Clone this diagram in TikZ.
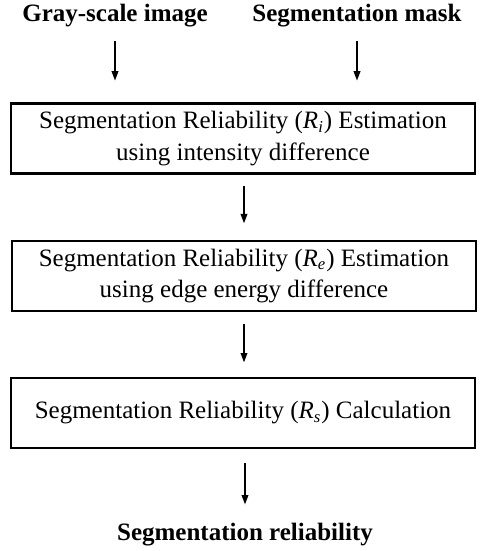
\documentclass[tikz,border=0pt]{standalone}
\usepackage{fontspec}
\setmainfont{Liberation Serif}
\usetikzlibrary{positioning, arrows.meta}

\begin{document}
\begin{tikzpicture}[
    x=0.48pt, y=-0.48pt,
    stagebox/.style={draw, line width=1pt, align=center, minimum width=222.5pt, minimum height=33.6pt, font=\fontsize{12}{15.2}\selectfont, inner sep=0pt},
    iolabel/.style={font=\fontsize{12}{14.4}\selectfont\bfseries, inner sep=1pt},
    flow/.style={-{Triangle[length=4.5pt, width=3.2pt]}, line width=0.7pt}
]
\useasboundingbox (0,0) rectangle (480,551);

% Inputs
\node[iolabel] (gray) at (115, 16) {Gray-scale image};
\node[iolabel] (mask) at (357, 16) {Segmentation mask};

% Stages
\node[stagebox] (ri) at (243, 138.5) {Segmentation Reliability (\textit{R\textsubscript{i}}) Estimation\\using intensity difference};
\node[stagebox] (re) at (244, 276) {Segmentation Reliability (\textit{R\textsubscript{e}}) Estimation\\using edge energy difference};
\node[stagebox] (rs) at (243, 413) {Segmentation Reliability (\textit{R\textsubscript{s}}) Calculation};

% Output
\node[iolabel] (out) at (245, 535) {Segmentation reliability};

% Arrows
\draw[flow, shorten <=5.5pt, shorten >=10.5pt] (gray) -- (gray |- ri.north);
\draw[flow, shorten <=5.5pt, shorten >=10.5pt] (mask) -- (mask |- ri.north);
\draw[flow, shorten <=5.5pt, shorten >=8pt] (ri.south -| re.south) -- (re.north);
\draw[flow, shorten <=5.8pt, shorten >=7pt] (re.south) -- (re.south |- rs.north);
\draw[flow, shorten <=6.7pt, shorten >=8pt] (rs.south -| out.north) -- (out.north);

\end{tikzpicture}
\end{document}
